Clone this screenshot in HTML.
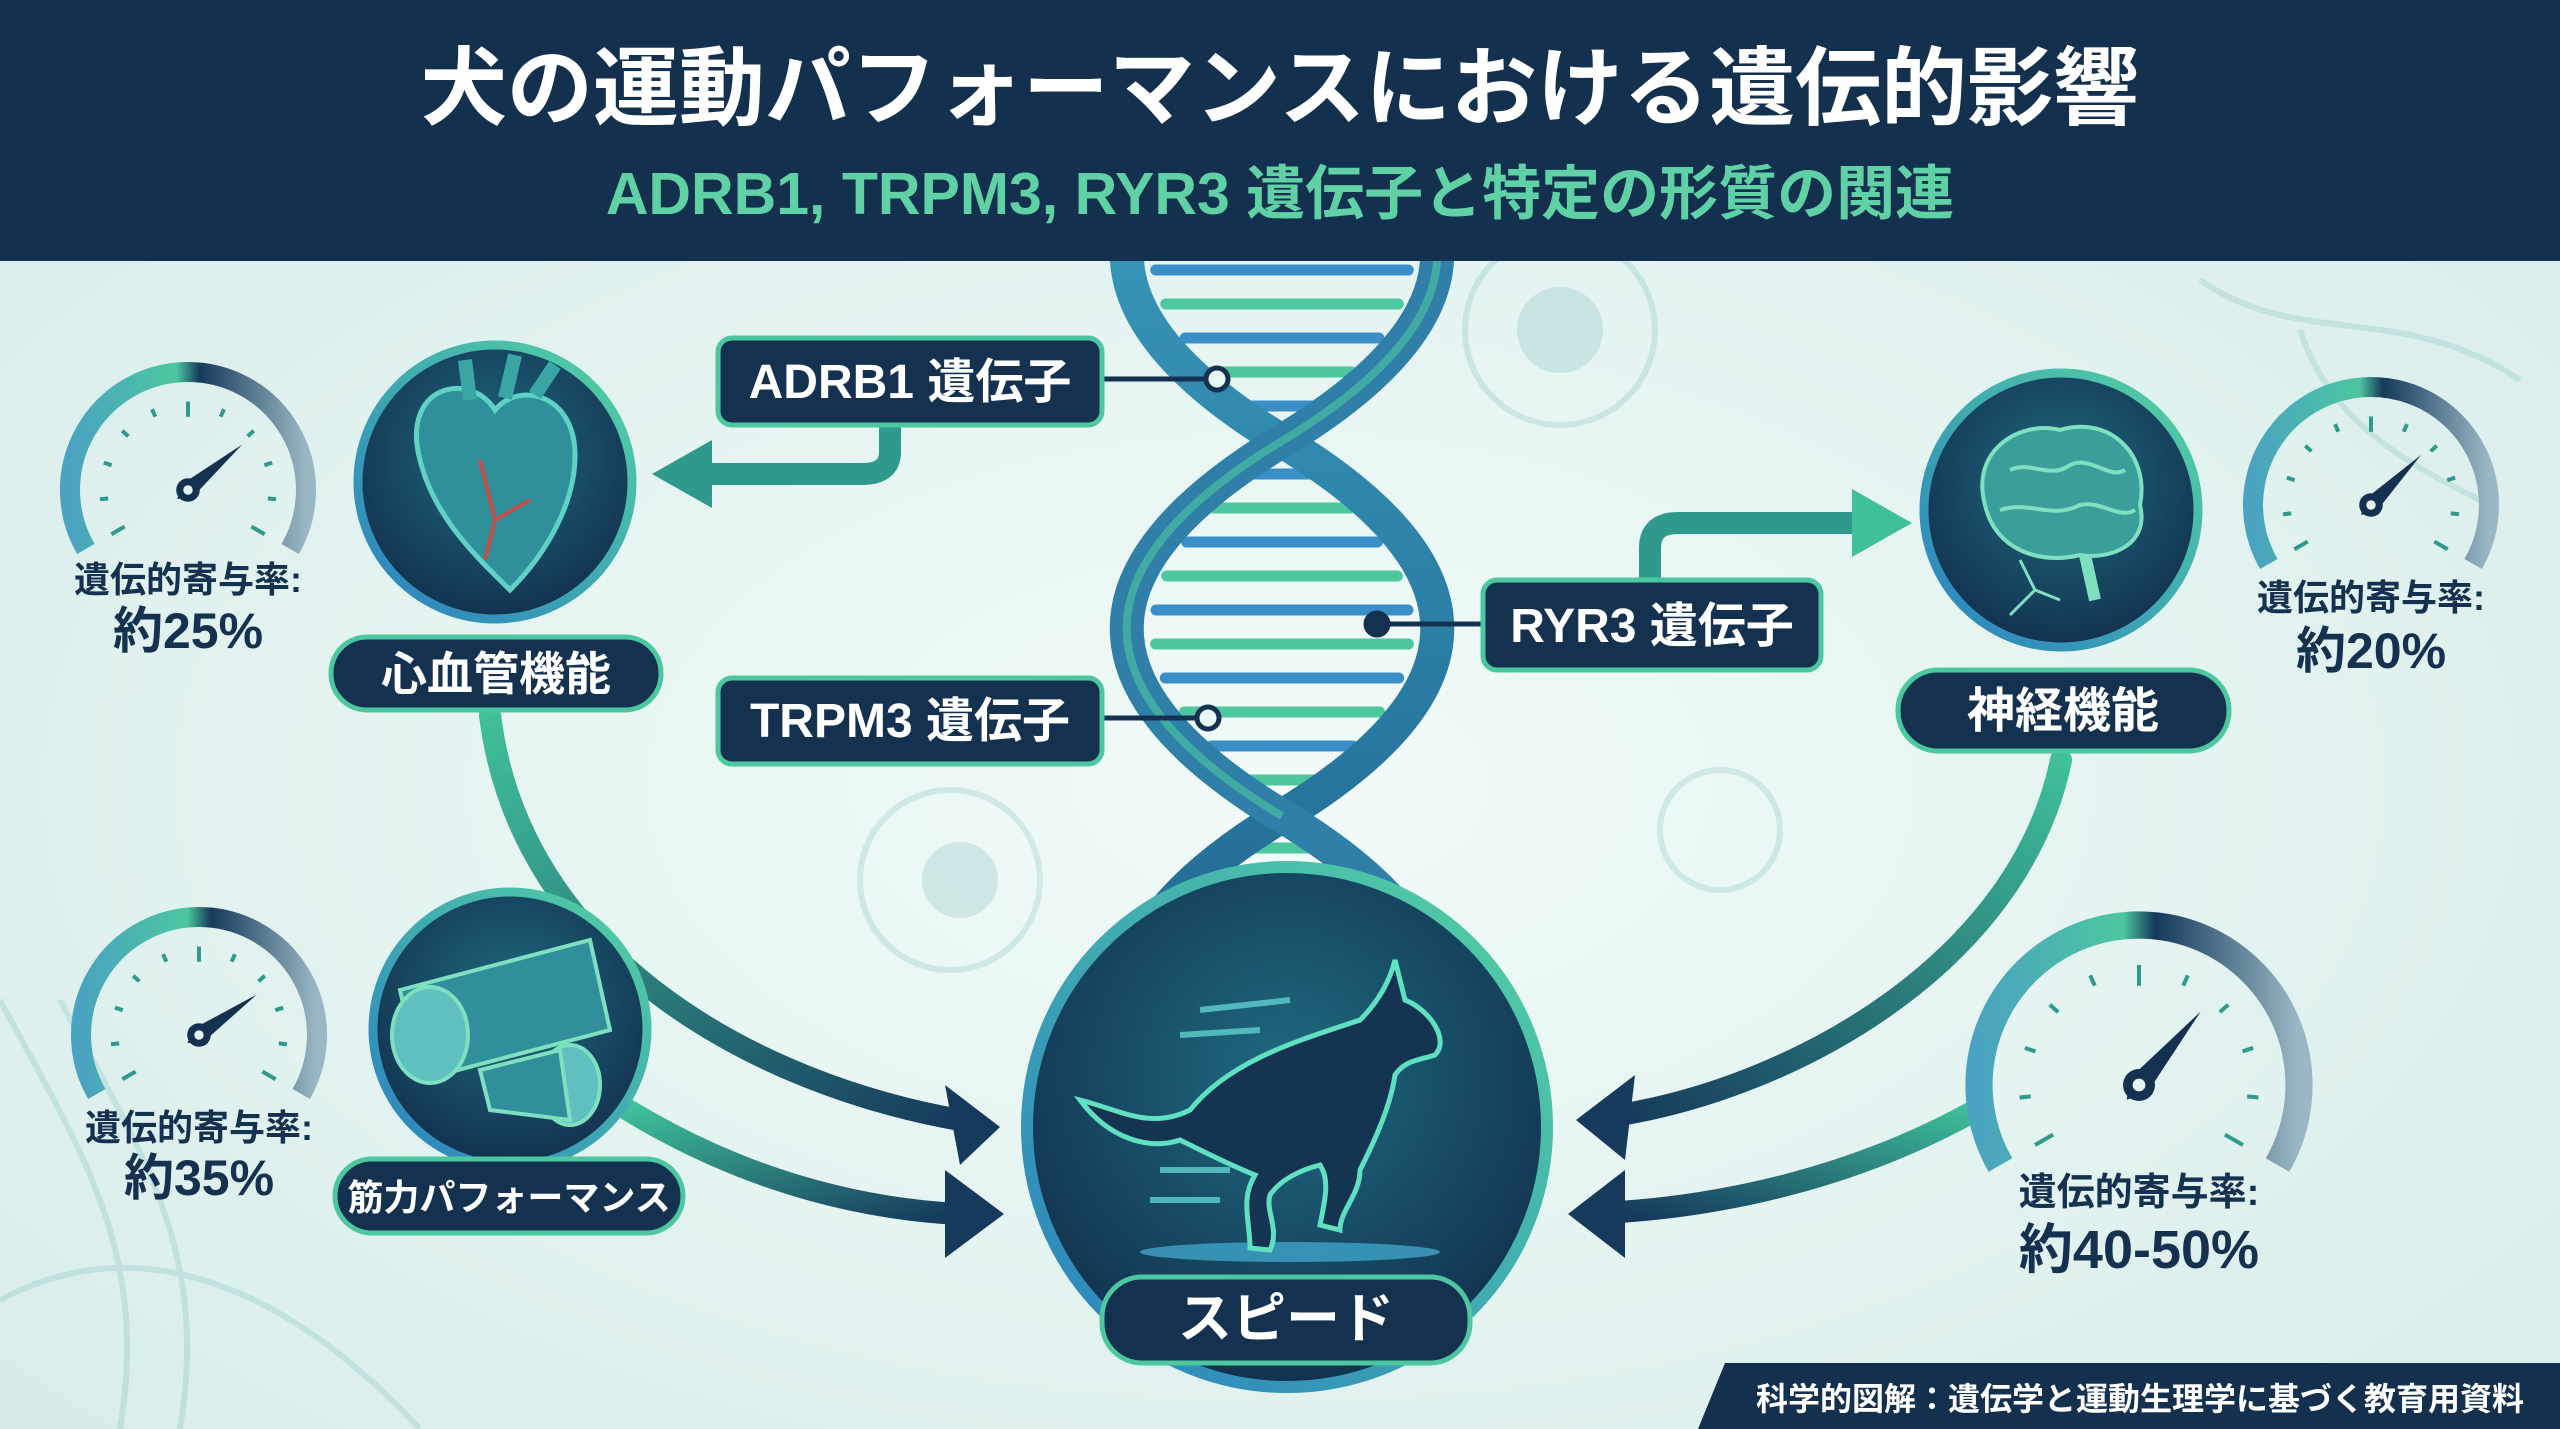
<!DOCTYPE html>
<html><head><meta charset="utf-8"><style>
html,body{margin:0;padding:0;width:2560px;height:1429px;overflow:hidden;background:#e4f4f1}
svg{display:block}
text{font-family:"Liberation Sans","Noto Sans CJK JP",sans-serif;font-weight:bold}
</style></head><body>
<svg id="s" width="2560" height="1429" viewBox="0 0 2560 1429" xmlns="http://www.w3.org/2000/svg">
<defs>
<radialGradient id="bg" cx="50%" cy="55%" r="70%"><stop offset="0" stop-color="#f2fbf9"/><stop offset="1" stop-color="#d6ece9"/></radialGradient>
<radialGradient id="cf" cx="50%" cy="40%" r="60%"><stop offset="0" stop-color="#1f6a80"/><stop offset="1" stop-color="#12324f"/></radialGradient>
<linearGradient id="ring" x1="0" y1="1" x2="1" y2="0"><stop offset="0" stop-color="#2a7fc0"/><stop offset="1" stop-color="#55d3a2"/></linearGradient>
<linearGradient id="gg" x1="0" y1="0" x2="1" y2="0"><stop offset="0" stop-color="#4aa3c0"/><stop offset="0.45" stop-color="#4cc7a0"/><stop offset="0.55" stop-color="#163a5c"/><stop offset="1" stop-color="#9ab8c4"/></linearGradient>
<linearGradient id="arL" x1="0" y1="0" x2="1" y2="1"><stop offset="0" stop-color="#3fbf9a"/><stop offset="1" stop-color="#163a5c"/></linearGradient>
<linearGradient id="arR" x1="1" y1="0" x2="0" y2="1"><stop offset="0" stop-color="#3fbf9a"/><stop offset="1" stop-color="#163a5c"/></linearGradient>
<linearGradient id="dnaA" x1="0" y1="0" x2="0" y2="1"><stop offset="0" stop-color="#3a9fc0"/><stop offset="1" stop-color="#1d5d8a"/></linearGradient>
</defs>
<rect width="2560" height="1429" fill="url(#bg)"/>
<g opacity="0.18" fill="none" stroke="#4aa5a8" stroke-width="6">
<circle cx="1560" cy="330" r="95"/><circle cx="1560" cy="330" r="40" fill="#4aa5a8"/>
<circle cx="950" cy="880" r="90"/><circle cx="960" cy="880" r="35" fill="#4aa5a8"/>
<circle cx="1720" cy="830" r="60"/>
<path d="M2200 280 C2300 350 2400 300 2520 380 M2300 330 C2330 420 2400 460 2480 500"/>
<path d="M0 1000 C80 1150 150 1250 120 1429 M60 1000 C140 1150 210 1250 180 1429"/>
<path d="M0 1300 C150 1220 300 1300 420 1429"/>
</g>
<g id="dna"></g>
<rect width="2560" height="261" fill="#14304f"/>
<text x="1280" y="118" font-size="86" fill="#ffffff" text-anchor="middle">犬の運動パフォーマンスにおける遺伝的影響</text>
<text x="1280" y="214" font-size="59" fill="#5fd1a5" text-anchor="middle">ADRB1, TRPM3, RYR3 遺伝子と特定の形質の関連</text>

<g fill="none" stroke-width="22" stroke-linecap="round">
<path d="M490 715 C520 960 760 1085 960 1120" stroke="url(#arL)"/>
<path d="M628 1110 C760 1190 880 1210 960 1214" stroke="url(#arL)"/>
<path d="M2061 760 C2020 960 1800 1085 1620 1115" stroke="url(#arR)"/>
<path d="M1976 1110 C1850 1180 1720 1205 1620 1212" stroke="url(#arR)"/>
<path d="M890 425 L890 452 Q890 474 862 474 L700 474" stroke="#2f9a8c"/>
<path d="M1650 580 L1650 548 Q1650 523 1678 523 L1860 523" stroke="#2f9a8c"/>
</g>
<g fill="#163a5c">
<polygon points="1000,1127 945,1085 960,1165"/>
<polygon points="1004,1214 945,1170 945,1258"/>
<polygon points="1576,1120 1635,1075 1625,1160"/>
<polygon points="1568,1214 1625,1170 1625,1258"/>
<polygon points="652,474 712,440 712,508" fill="#2f9a8c"/>
<polygon points="1912,523 1852,489 1852,557" fill="#3fbf9a"/>
</g>

<g stroke="#143150" stroke-width="5" fill="#e8f7f3">
<line x1="1100" y1="379" x2="1217" y2="379"/><circle cx="1217" cy="379" r="11"/>
<line x1="1100" y1="718" x2="1208" y2="718"/><circle cx="1208" cy="718" r="11"/>
<line x1="1483" y1="624" x2="1377" y2="624"/><circle cx="1377" cy="624" r="11" fill="#143150"/>
</g>

<g stroke="url(#ring)" stroke-width="9" fill="url(#cf)">
<circle cx="495" cy="482" r="137"/>
<circle cx="2061" cy="510" r="137"/>
<circle cx="510" cy="1029" r="137"/>
<circle cx="1287" cy="1127" r="260" stroke-width="12"/>
</g>
<g fill="#2f8f9a" stroke="#5fd1c5" stroke-width="5">
<path d="M495 410 C470 370 400 385 420 460 C435 520 480 560 510 590 C545 555 575 505 575 455 C575 395 520 380 495 410Z"/>
<path d="M470 400 L465 360 M505 398 L515 355 M535 395 L555 365" fill="none" stroke-width="14" stroke="#3aa5a5"/>
<path d="M480 460 L495 520 L485 560 M495 520 L530 500" fill="none" stroke="#c0504a" stroke-width="4"/>
</g>
<g fill="#3a9f9a" stroke="#7fe0c0" stroke-width="4">
<path d="M1985 505 C1970 450 2020 420 2060 430 C2110 415 2150 455 2140 505 C2150 545 2110 560 2080 555 C2040 565 1995 550 1985 505Z"/>
<path d="M2010 470 C2030 460 2050 480 2070 465 C2090 455 2110 480 2125 470 M2000 510 C2030 500 2050 520 2080 505 C2100 500 2120 520 2135 510" fill="none"/>
<path d="M2085 555 L2095 600" fill="none" stroke-width="12"/>
<path d="M2020 560 L2035 590 L2010 615 M2035 590 L2060 600" fill="none" stroke="#7fe0c0" stroke-width="3"/>
</g>
<g stroke="#7fe0c0" stroke-width="4">
<path d="M400 990 L590 940 L610 1030 L420 1080Z" fill="#2f8f9a"/>
<ellipse cx="430" cy="1035" rx="38" ry="48" fill="#5fc0c0"/>
<ellipse cx="570" cy="1085" rx="30" ry="40" fill="#5fc0c0"/>
<path d="M480 1070 L560 1050 L570 1120 L490 1110Z" fill="#2f8f9a"/>
</g>
<g>
<ellipse cx="1290" cy="1252" rx="150" ry="10" fill="#3fa5c8" opacity="0.8"/>
<path d="M1080 1100 C1120 1110 1150 1130 1190 1110 C1230 1060 1300 1040 1360 1020 C1380 1000 1390 980 1395 960 L1405 1000 C1430 1010 1450 1040 1435 1055 C1420 1060 1405 1060 1395 1075 C1390 1110 1370 1150 1360 1170 C1360 1195 1340 1210 1340 1230 L1320 1225 C1325 1200 1330 1180 1320 1165 C1300 1170 1280 1180 1270 1195 C1265 1210 1280 1230 1270 1250 L1250 1248 C1250 1220 1240 1200 1255 1175 C1230 1165 1200 1150 1180 1140 C1150 1150 1110 1140 1080 1100Z" fill="#143452" stroke="#5fe0c0" stroke-width="5"/>
<g stroke="#5fd1d0" stroke-width="6" fill="none" opacity="0.8"><path d="M1200 1010 L1290 1000 M1180 1035 L1260 1030 M1160 1170 L1230 1170 M1150 1200 L1220 1200"/></g>
</g>

<g fill="#143150" stroke="#4cc7a0" stroke-width="5">
<rect x="331" y="637" width="330" height="73" rx="36"/>
<rect x="1898" y="670" width="331" height="81" rx="40"/>
<rect x="335" y="1159" width="348" height="74" rx="37"/>
<rect x="1102" y="1277" width="368" height="86" rx="40"/>
<rect x="718" y="338" width="384" height="87" rx="14"/>
<rect x="718" y="678" width="384" height="86" rx="14"/>
<rect x="1483" y="580" width="338" height="90" rx="14"/>
</g>
<g fill="#ffffff" text-anchor="middle">
<text x="496" y="690" font-size="46">心血管機能</text>
<text x="2063" y="727" font-size="48">神経機能</text>
<text x="509" y="1210" font-size="36">筋力パフォーマンス</text>
<text x="1286" y="1337" font-size="54">スピード</text>
<text x="910" y="398" font-size="48">ADRB1 遺伝子</text>
<text x="910" y="737" font-size="48">TRPM3 遺伝子</text>
<text x="1652" y="642" font-size="48">RYR3 遺伝子</text>
</g>

<g id="gauges"></g>
<g fill="#143150" text-anchor="middle">
<text x="188" y="592" font-size="36">遺伝的寄与率:</text>
<text x="188" y="648" font-size="50">約25%</text>
<text x="199" y="1140" font-size="36">遺伝的寄与率:</text>
<text x="199" y="1195" font-size="50">約35%</text>
<text x="2371" y="610" font-size="36">遺伝的寄与率:</text>
<text x="2371" y="668" font-size="50">約20%</text>
<text x="2139" y="1205" font-size="38">遺伝的寄与率:</text>
<text x="2139" y="1268" font-size="54">約40-50%</text>
</g>

<polygon points="1725,1363 2560,1363 2560,1429 1698,1429" fill="#14304f"/>
<text x="2140" y="1410" font-size="32" fill="#ffffff" text-anchor="middle">科学的図解：遺伝学と運動生理学に基づく教育用資料</text>
</svg>
<script>
var NS="http://www.w3.org/2000/svg";
function el(p,t,a){var e=document.createElementNS(NS,t);for(var k in a)e.setAttribute(k,a[k]);p.appendChild(e);return e;}
var dna=document.getElementById('dna');
for(var y=270;y<880;y+=34){var s=Math.sin(Math.PI*(y-441)/375);var w=150*Math.abs(s)*0.85;if(w<20)continue;
el(dna,'line',{x1:1282-w,y1:y,x2:1282+w,y2:y,stroke:(Math.round(y/34)%2?'#4cc7a0':'#3a8fc8'),'stroke-width':11,'stroke-linecap':'round'});}
el(dna,'path',{d:'M1282,66 C1075,191 1075,316 1282,441 C1489,566 1489,691 1282,816 C1075,941 1075,1066 1282,1191',fill:'none',stroke:'url(#dnaA)','stroke-width':34});
el(dna,'path',{d:'M1282,66 C1489,191 1489,316 1282,441 C1075,566 1075,691 1282,816 C1489,941 1489,1066 1282,1191',fill:'none',stroke:'#2f7fa8','stroke-width':34});
el(dna,'path',{d:'M1282,66 C1489,191 1489,316 1282,441 C1075,566 1075,691 1282,816',fill:'none',stroke:'#4cc7a0','stroke-width':8,opacity:0.6});
var G=document.getElementById('gauges');
function gauge(cx,cy,r,ang){
 var a1=210*Math.PI/180,a2=-30*Math.PI/180;
 var x1=cx+r*Math.cos(a1),y1=cy-r*Math.sin(a1),x2=cx+r*Math.cos(a2),y2=cy-r*Math.sin(a2);
 el(G,'path',{d:'M'+x1+' '+y1+' A'+r+' '+r+' 0 1 1 '+x2+' '+y2,fill:'none',stroke:'url(#gg)','stroke-width':r*0.17});
 for(var i=0;i<=10;i++){var a=(210-24*i)*Math.PI/180;var r1=r*0.75,r2=r*(i%5?0.68:0.62);
 el(G,'line',{x1:cx+r1*Math.cos(a),y1:cy-r1*Math.sin(a),x2:cx+r2*Math.cos(a),y2:cy-r2*Math.sin(a),stroke:'#2f9a8c','stroke-width':4});}
 var an=ang*Math.PI/180,L=r*0.6;
 var px=-Math.sin(an)*r*0.07,py=-Math.cos(an)*r*0.07;
 el(G,'polygon',{points:(cx+L*Math.cos(an))+','+(cy-L*Math.sin(an))+' '+(cx+px)+','+(cy+py)+' '+(cx-0.2*L*Math.cos(an))+','+(cy+0.2*L*Math.sin(an))+' '+(cx-px)+','+(cy-py),fill:'#143150'});
 el(G,'circle',{cx:cx,cy:cy,r:r*0.1,fill:'#143150'});el(G,'circle',{cx:cx,cy:cy,r:r*0.04,fill:'#e4f4f1'});
}
gauge(188,490,118,40);gauge(199,1035,118,35);gauge(2371,505,118,45);gauge(2139,1085,160,50);
</script>
</body></html>
